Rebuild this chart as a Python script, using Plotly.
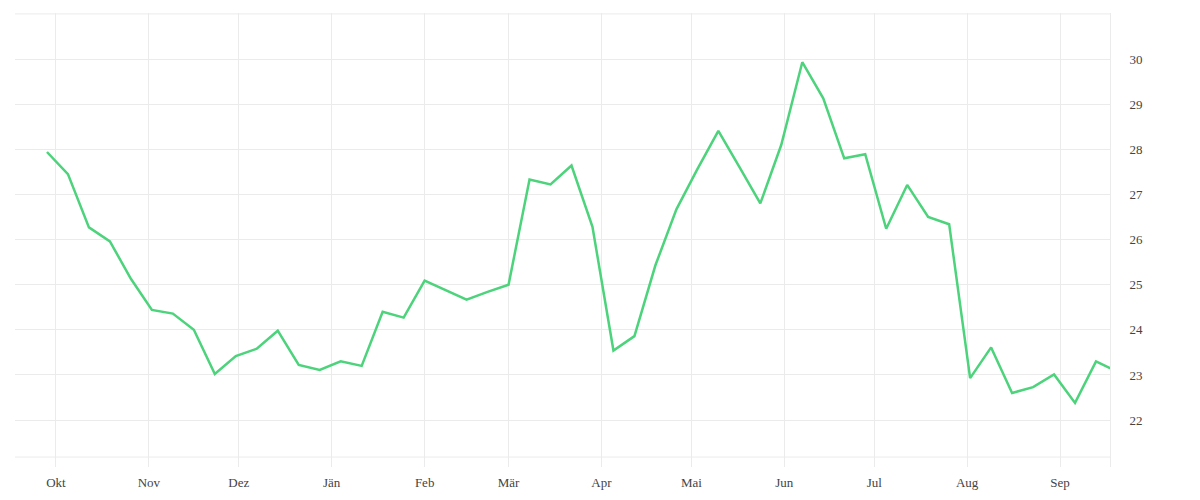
import pandas as pd
import plotly.graph_objs as go

# weekly values, Sep 28 2020 .. Sep 20 2021 (last one sits just past the right edge)
weeks = pd.date_range("2020-09-28", periods=52, freq="7D")
values = [
    27.94, 27.45, 26.27, 25.96, 25.13, 24.44, 24.36, 24.00, 23.02, 23.42,
    23.58, 23.98, 23.22, 23.11, 23.30, 23.20, 24.40, 24.27, 25.09, 24.88,
    24.67, 24.84, 25.00, 27.33, 27.22, 27.64, 26.28, 23.54, 23.86, 25.43,
    26.67, 27.56, 28.41, 27.61, 26.80, 28.10, 29.93, 29.13, 27.80, 27.89,
    26.24, 27.21, 26.50, 26.34, 22.93, 23.61, 22.60, 22.73, 23.01, 22.38,
    23.30, 23.08,
]

month_ticks = pd.date_range("2020-10-01", "2021-09-01", freq="MS")
month_labels = ["Okt", "Nov", "Dez", "Jän", "Feb", "Mär",
                "Apr", "Mai", "Jun", "Jul", "Aug", "Sep"]
y_ticks = [22, 23, 24, 25, 26, 27, 28, 29, 30]

grid = "#ebebeb"

line = go.Scatter(
    x=weeks,
    y=values,
    mode="lines",
    line=dict(color="#4cd37b", width=2.5),
    hoverinfo="x+y",
)

# page body adds ~8px offset, margins compensate for it
layout = go.Layout(
    width=1200,
    height=500,
    margin=dict(l=7, r=98, t=5, b=41),
    plot_bgcolor="white",
    paper_bgcolor="white",
    showlegend=False,
    font=dict(family="Liberation Serif", size=13, color="#444"),
    xaxis=dict(
        range=["2020-09-17 08:00", "2021-09-17 16:00"],
        tickvals=month_ticks,
        ticktext=month_labels,
        showgrid=True,
        gridcolor=grid,
        gridwidth=1,
        zeroline=False,
        showline=False,
        ticks="",
        ticklabelstandoff=6,
    ),
    yaxis=dict(
        side="right",
        range=[20.96, 31.02],
        tickvals=y_ticks,
        showgrid=True,
        gridcolor=grid,
        gridwidth=1,
        zeroline=False,
        showline=True,
        linecolor=grid,
        linewidth=1,
        ticks="",
        ticklabelstandoff=16,
    ),
)

figure = go.Figure(data=[line], layout=layout)
# top border and the lower guide line
figure.add_hline(y=31.0, line=dict(color=grid, width=1), layer="below")
figure.add_hline(y=21.18, line=dict(color=grid, width=1), layer="below")

figure.write_html("out.html")
